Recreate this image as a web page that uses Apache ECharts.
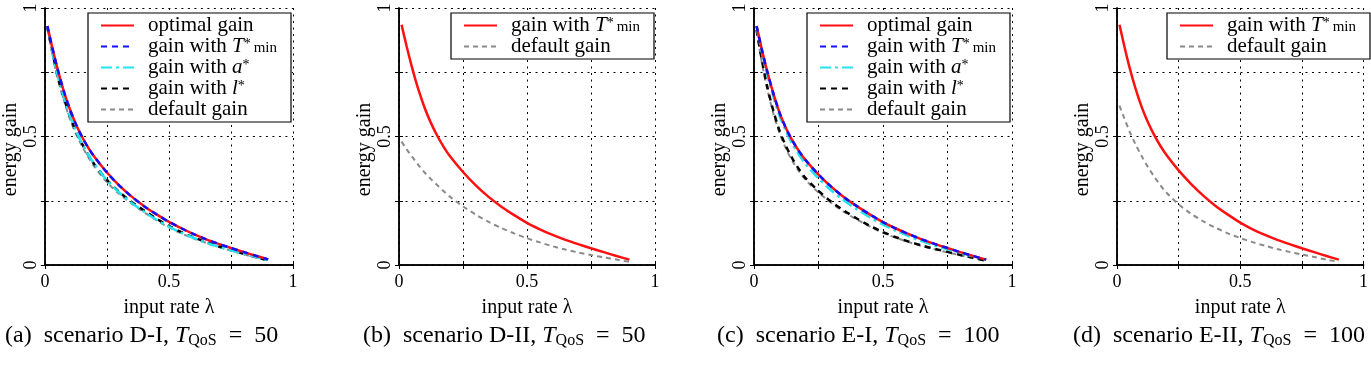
<!DOCTYPE html>
<html><head><meta charset="utf-8">
<script src="https://cdn.jsdelivr.net/npm/echarts@6/dist/echarts.min.js"></script>
<style>html,body{margin:0;padding:0;background:#fff}#c{width:1371px;height:365px}</style>
</head><body><div id="c"></div>
<script>
// input rate λ sample points
const lambdas = [0.01,0.03,0.05,0.075,0.1,0.125,0.15,0.175,0.2,0.25,0.3,0.35,0.4,0.45,0.5,0.55,0.6,0.65,0.7,0.75,0.8,0.85,0.9];
// (a) scenario D-I
const aOptimal = [0.93,0.845,0.767,0.68,0.608,0.548,0.498,0.456,0.42,0.36,0.309,0.266,0.229,0.197,0.168,0.143,0.12,0.1,0.082,0.066,0.051,0.036,0.022];
const aTmin    = [0.93,0.845,0.767,0.68,0.608,0.548,0.498,0.456,0.42,0.36,0.309,0.266,0.229,0.197,0.168,0.143,0.12,0.1,0.082,0.066,0.051,0.036,0.022];
const aA       = [0.925,0.83,0.742,0.657,0.582,0.522,0.472,0.429,0.392,0.33,0.281,0.241,0.207,0.176,0.149,0.125,0.105,0.087,0.071,0.057,0.044,0.031,0.018];
const aL       = [0.925,0.83,0.74,0.655,0.58,0.52,0.471,0.428,0.391,0.331,0.284,0.245,0.212,0.18,0.152,0.128,0.107,0.089,0.073,0.058,0.044,0.031,0.018];
const aDefault = [0.92,0.822,0.73,0.645,0.57,0.51,0.462,0.419,0.382,0.322,0.276,0.238,0.205,0.174,0.146,0.123,0.103,0.086,0.07,0.056,0.042,0.029,0.017];
// (b) scenario D-II
const bTmin    = [0.935,0.85,0.772,0.685,0.612,0.552,0.502,0.459,0.422,0.362,0.31,0.265,0.227,0.194,0.164,0.139,0.117,0.098,0.081,0.065,0.05,0.035,0.021];
const bDefault = [0.48,0.45,0.423,0.39,0.36,0.334,0.31,0.287,0.265,0.228,0.196,0.168,0.144,0.123,0.104,0.088,0.073,0.06,0.049,0.039,0.03,0.021,0.012];
// (c) scenario E-I
const cOptimal = [0.93,0.84,0.758,0.668,0.59,0.53,0.482,0.442,0.408,0.352,0.304,0.263,0.228,0.196,0.167,0.142,0.12,0.1,0.082,0.066,0.05,0.035,0.021];
const cTmin    = [0.93,0.84,0.758,0.668,0.59,0.53,0.482,0.442,0.408,0.352,0.304,0.263,0.228,0.196,0.167,0.142,0.12,0.1,0.082,0.066,0.05,0.035,0.021];
const cA       = [0.925,0.83,0.745,0.655,0.578,0.518,0.468,0.428,0.393,0.337,0.29,0.25,0.216,0.185,0.157,0.133,0.112,0.093,0.076,0.061,0.047,0.033,0.02];
const cL       = [0.915,0.8,0.7,0.6,0.52,0.46,0.412,0.372,0.338,0.288,0.246,0.211,0.18,0.152,0.128,0.108,0.091,0.076,0.063,0.051,0.039,0.028,0.016];
const cDefault = [0.91,0.79,0.69,0.59,0.51,0.45,0.403,0.364,0.331,0.282,0.241,0.206,0.176,0.149,0.125,0.106,0.089,0.074,0.061,0.049,0.038,0.027,0.015];
// (d) scenario E-II
const dTmin    = [0.935,0.85,0.772,0.687,0.615,0.556,0.507,0.465,0.429,0.368,0.316,0.27,0.23,0.196,0.165,0.139,0.117,0.098,0.081,0.065,0.05,0.035,0.021];
const dDefault = [0.62,0.57,0.522,0.47,0.424,0.382,0.345,0.312,0.282,0.236,0.2,0.17,0.145,0.123,0.105,0.089,0.075,0.062,0.051,0.041,0.031,0.021,0.012];
// tick labels and texts
const tickLabels = {0:'0', 0.5:'0.5', 1:'1'};
const xName = 'input rate λ';
const yName = 'energy gain';
const captions = [
  '(a)  scenario D-I, {i|T}{s|QoS}  =  50',
  '(b)  scenario D-II, {i|T}{s|QoS}  =  50',
  '(c)  scenario E-I, {i|T}{s|QoS}  =  100',
  '(d)  scenario E-II, {i|T}{s|QoS}  =  100'
];
const N_OPT = 'optimal gain', N_T = 'gain with T*min', N_T2 = 'gain with T*min (only)', N_A = 'gain with a*', N_L = 'gain with l*', N_D = 'default gain';
const legendRich = {};
legendRich[N_OPT] = 'optimal gain';
legendRich[N_T] = 'gain with {i|T}{sup|*}{sub|min}';
legendRich[N_T2] = 'gain with {i|T}{sup|*}{sub|min}';
legendRich[N_A] = 'gain with {i|a}{sup|*}';
legendRich[N_L] = 'gain with {i|l}{sup|*}';
legendRich[N_D] = 'default gain';

const FONT = 'Liberation Serif';
const grids = [
  {left:36, top:8, width:257, height:257},
  {left:399, top:8, width:256, height:257},
  {left:754, top:8, width:258, height:257},
  {left:1117, top:8, width:256, height:257}
];
const legendPos = [{left:88, top:13},{left:451, top:13},{left:807, top:13},{left:1167, top:13}];
const captionPos = [5, 363, 717, 1073];

const RED   = {color:'#ff1010', width:2.5, type:'solid', z:5};
const BLUE  = {color:'#1010ff', width:2.5, type:[6,5], z:6};
const CYAN  = {color:'#22e4f0', width:2.5, type:[11,4,3,4], z:4};
const BLACK = {color:'#000000', width:2.5, type:[6,5], z:3};
const GRAY  = {color:'#8a8a8a', width:2, type:[5,4], z:2};

function pairs(vals){ return lambdas.map((x,i)=>[x, vals[i]]); }
function mk(name, vals, gi, s){
  return {type:'line', name:name, xAxisIndex:gi*2, yAxisIndex:gi*2, data:pairs(vals),
    smooth:0.3, symbol:'none', showSymbol:false, z:s.z,
    lineStyle:{color:s.color, width:s.width, type:s.type}, itemStyle:{color:s.color}};
}
const panels = [
  [[N_OPT,aOptimal,RED],[N_T,aTmin,BLUE],[N_A,aA,CYAN],[N_L,aL,BLACK],[N_D,aDefault,GRAY]],
  [[N_T2,bTmin,RED],[N_D,bDefault,GRAY]],
  [[N_OPT,cOptimal,RED],[N_T,cTmin,BLUE],[N_A,cA,CYAN],[N_L,cL,BLACK],[N_D,cDefault,GRAY]],
  [[N_T2,dTmin,RED],[N_D,dDefault,GRAY]]
];

const xAxis = [], yAxis = [], series = [], legend = [], title = [];
const fmt = v => (tickLabels[v] !== undefined ? tickLabels[v] : '');
const axisLine = {show:true, lineStyle:{color:'#000', width:1.5}};
const tick = {show:true, inside:true, length:4, lineStyle:{color:'#000', width:1}};
const split = {show:true, lineStyle:{color:'#000', width:1, type:[2,4.5]}};
grids.forEach((g, i) => {
  xAxis.push({type:'value', gridIndex:i, min:0, max:1, interval:0.25, position:'bottom',
    axisLine:axisLine, axisTick:tick, splitLine:split,
    axisLabel:{formatter:fmt, fontFamily:FONT, fontSize:18, color:'#000', margin:8, showMinLabel:true, showMaxLabel:true, hideOverlap:false},
    name:xName, nameLocation:'middle', nameGap:33, nameTextStyle:{fontFamily:FONT, fontSize:20, color:'#000'}});
  xAxis.push({type:'value', gridIndex:i, min:0, max:1, interval:0.25, position:'top',
    axisLine:axisLine, axisTick:tick, splitLine:{show:false}, axisLabel:{show:false}});
  yAxis.push({type:'value', gridIndex:i, min:0, max:1, interval:0.25, position:'left',
    axisLine:axisLine, axisTick:tick, splitLine:split,
    axisLabel:{formatter:fmt, rotate:90, fontFamily:FONT, fontSize:18, color:'#000', margin:5, showMinLabel:true, showMaxLabel:true, hideOverlap:false},
    name:yName, nameLocation:'middle', nameGap:21,
    nameTextStyle:{fontFamily:FONT, fontSize:20, color:'#000', padding:[0,26,0,0]}});
  yAxis.push({type:'value', gridIndex:i, min:0, max:1, interval:0.25, position:'right',
    axisLine:axisLine, axisTick:tick, splitLine:{show:false}, axisLabel:{show:false}});
  panels[i].forEach(([n, v, s]) => series.push(mk(n, v, i, s)));
  legend.push({orient:'vertical', left:legendPos[i].left, top:legendPos[i].top,
    data:panels[i].map(p=>p[0]), selectedMode:false,
    backgroundColor:'#fff', borderColor:'#000', borderWidth:1.2, borderRadius:0,
    padding:[2,14,2,12], itemGap:0, itemWidth:33, itemHeight:14,
    itemStyle:{opacity:0},
    formatter: n => legendRich[n],
    textStyle:{fontFamily:FONT, fontSize:21, color:'#000', lineHeight:19, padding:[0,0,0,9],
      rich:{i:{fontFamily:FONT, fontSize:21, fontStyle:'italic', color:'#000', lineHeight:19},
            sup:{fontFamily:FONT, fontSize:14, color:'#000', lineHeight:11, verticalAlign:'top'},
            sub:{fontFamily:FONT, fontSize:15, color:'#000', lineHeight:13, verticalAlign:'bottom', padding:[0,0,0,3]}}}});
  title.push({text:captions[i], left:captionPos[i], top:322, padding:0,
    textStyle:{fontFamily:FONT, fontSize:24, fontWeight:'normal', color:'#000', lineHeight:27,
      rich:{i:{fontFamily:FONT, fontSize:24, fontStyle:'italic', color:'#000', lineHeight:27},
            s:{fontFamily:FONT, fontSize:16, color:'#000', lineHeight:12, verticalAlign:'bottom'}}}});
});

const chart = echarts.init(document.getElementById('c'), null, {renderer:'canvas'});
chart.setOption({animation:false, backgroundColor:'#fff', grid:grids, xAxis, yAxis, series, legend, title});
</script></body></html>
